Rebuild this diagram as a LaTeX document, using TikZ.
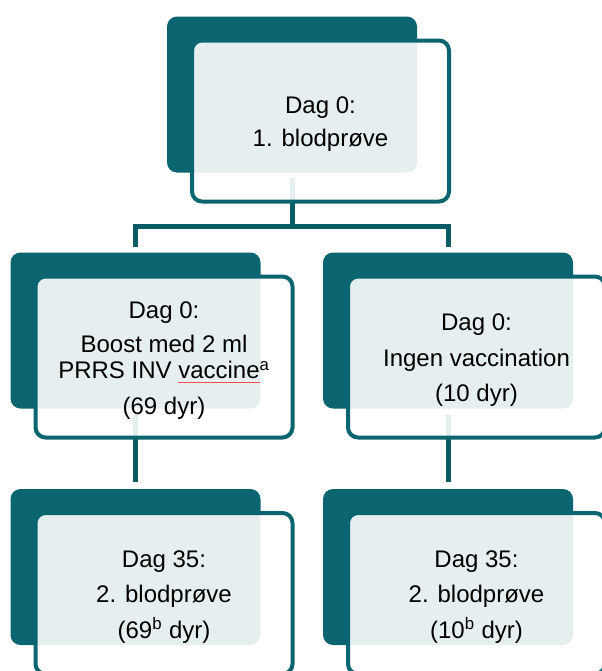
\documentclass[tikz,border=0pt]{standalone}
\usepackage{fontspec}
\setmainfont{Liberation Sans}
\usetikzlibrary{positioning}
\definecolor{darkteal}{HTML}{0A6570}
\definecolor{linkteal}{HTML}{095D67}
\newcommand\spellmark[1]{\setbox0\hbox{#1}\rlap{\textcolor{red!70}{\rule[-3pt]{\wd0}{0.6pt}}}#1}
\newcommand\topstrut{\rule{0pt}{17.5pt}}
\begin{document}
\begin{tikzpicture}[x=0.75pt, y=-0.75pt,
  backbox/.style={fill=darkteal, rounded corners=7.5pt, inner sep=0pt, outer sep=0pt,
    minimum width=187.5pt, minimum height=117pt},
  frontbox/.style={draw=darkteal, line width=3pt, fill=white, fill opacity=0.9, text opacity=1,
    rounded corners=7.5pt, inner sep=0pt, minimum width=192.75pt, minimum height=120.75pt,
    align=center, font=\fontsize{18}{19.5}\selectfont},
  link/.style={draw=linkteal, line width=3.75pt}]
  \useasboundingbox (0,0) rectangle (602,671);
  % back boxes
  \node[backbox] (back0) at (292,94.5) {};
  \node[backbox] (back1) at (135.5,330.5) {};
  \node[backbox] (back2) at (448,330.5) {};
  \node[backbox] (back3) at (135.5,567) {};
  \node[backbox] (back4) at (448,567) {};
  % connectors
  \coordinate (bus) at (292,226);
  \draw[link, shorten <=4pt] (back0.south) -- (bus);
  \draw[link, shorten >=4.5pt] (bus) -| (back1.north);
  \draw[link, shorten >=4.5pt] (bus) -| (back2.north);
  \draw[link, shorten <=5pt, shorten >=5pt] (back1.south) -- (back3.north);
  \draw[link, shorten <=5pt, shorten >=5pt] (back2.south) -- (back4.north);
  % front boxes
  \node[frontbox, below right=16.5pt and 17.25pt of back0.north west] (box0)
    {\topstrut Dag 0:\\[5.5pt] 1. blodprøve};
  \node[frontbox, below right=16.5pt and 17.25pt of back1.north west] (box1)
    {\topstrut Dag 0:\\[6.5pt] Boost med 2 ml\\ PRRS INV \spellmark{vaccine}\textsuperscript{a}\\[7pt] (69 dyr)};
  \node[frontbox, below right=16.5pt and 17.25pt of back2.north west] (box2)
    {\topstrut Dag 0:\\[7pt] Ingen vaccination\\[7pt] (10 dyr)};
  \node[frontbox, below right=16.5pt and 17.25pt of back3.north west] (box3)
    {\topstrut Dag 35:\\[7pt] 2. blodprøve\\[7pt] (69\textsuperscript{b} dyr)};
  \node[frontbox, below right=16.5pt and 17.25pt of back4.north west] (box4)
    {\topstrut Dag 35:\\[7pt] 2. blodprøve\\[7pt] (10\textsuperscript{b} dyr)};
\end{tikzpicture}
\end{document}
